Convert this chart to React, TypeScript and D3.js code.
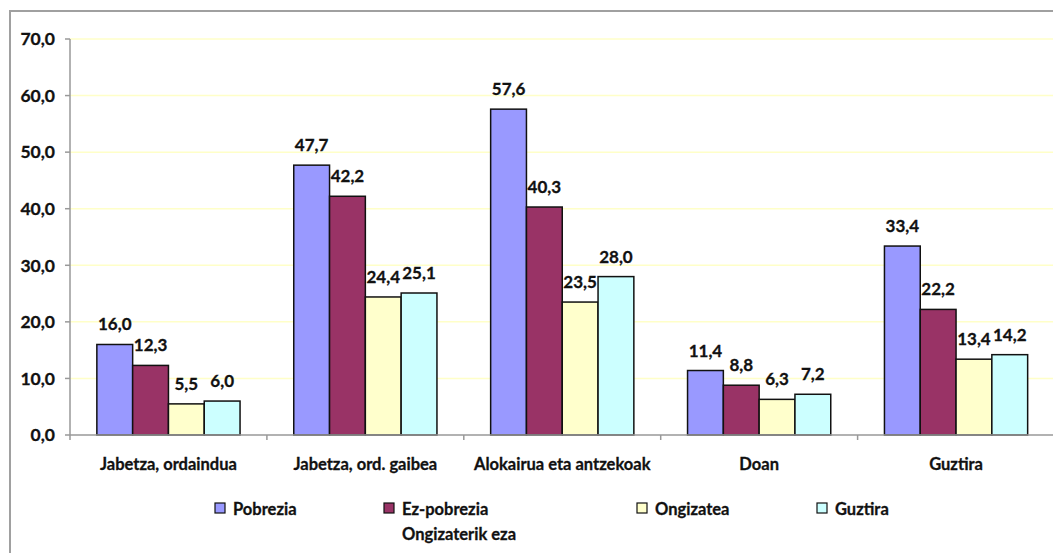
import React from 'react';
import * as d3 from 'd3';

const categories = ['Jabetza, ordaindua', 'Jabetza, ord. gaibea', 'Alokairua eta antzekoak', 'Doan', 'Guztira'];
const seriesNames = ['Pobrezia', 'Ez-pobrezia', 'Ongizatea', 'Guztira'];
const pobrezia = [16.0, 47.7, 57.6, 11.4, 33.4];
const ezPobrezia = [12.3, 42.2, 40.3, 8.8, 22.2];
const ongizatea = [5.5, 24.4, 23.5, 6.3, 13.4];
const guztira = [6.0, 25.1, 28.0, 7.2, 14.2];
const yTicks = [0, 10, 20, 30, 40, 50, 60, 70];

const colors = ['#9999FF', '#993366', '#FFFFCC', '#CCFFFF'];
const FONT = 'Lato, "Open Sans", sans-serif';

const W = 1053;
const H = 553;
const left = 70;
const top = 39;
const bottom = 435;
const right = left + 5 * 196.9;

const fmt = (v: number) => d3.format('.1f')(v).replace('.', ',');

const App: React.FC = () => {
    const values = [pobrezia, ezPobrezia, ongizatea, guztira];

    const x = d3.scaleBand<string>().domain(categories).range([left, right]).padding(0);
    const bw = x.bandwidth();
    const gap = (bw * 1.5) / 5.5;
    const xInner = d3.scaleBand<string>().domain(seriesNames).range([gap / 2, bw - gap / 2]).padding(0);
    const y = d3.scaleLinear().domain([0, 70]).range([bottom, top]);

    // legend sits in fixed spots like the Excel original
    const legendX = [215, 384, 637, 817];

    return (
        <svg width={W} height={H} style={{ position: 'absolute', left: 0, top: 0, background: '#fff' }}
            fontFamily={FONT} fontWeight="bold">
            {/* chart border */}
            <rect x={10} y={11} width={W + 20} height={H + 20} fill="none" stroke="#a0a0a0" strokeWidth={2} />

            {/* gridlines */}
            {yTicks.filter(t => t > 0).map(t => (
                <line key={`g${t}`} x1={left} x2={W} y1={y(t)} y2={y(t)} stroke="#FFFFC8" strokeWidth={1.5} />
            ))}

            {/* y axis */}
            <line x1={left} x2={left} y1={top} y2={bottom} stroke="#999" strokeWidth={1.5} />
            {yTicks.map(t => (
                <g key={`y${t}`}>
                    <line x1={left - 5} x2={left} y1={y(t)} y2={y(t)} stroke="#999" strokeWidth={1.5} />
                    <text x={55} y={y(t)} dy="0.36em" textAnchor="end" fontSize={17.5} fill="#111"
                        stroke="#111" strokeWidth={0.3}>{fmt(t)}</text>
                </g>
            ))}

            {/* bars */}
            {categories.map((c, ci) => (
                <g key={c} transform={`translate(${x(c)},0)`}>
                    {seriesNames.map((s, si) => {
                        const v = values[si][ci];
                        const bx = xInner(s)!;
                        return (
                            <g key={s}>
                                <rect x={bx} y={y(v)} width={xInner.bandwidth()} height={bottom - y(v)}
                                    fill={colors[si]} stroke="#111" strokeWidth={1.5} />
                                <text x={bx + xInner.bandwidth() / 2} y={y(v) - 14} textAnchor="middle"
                                    fontSize={17} fill="#111" stroke="#111" strokeWidth={0.3}>{fmt(v)}</text>
                            </g>
                        );
                    })}
                </g>
            ))}

            {/* x axis */}
            <line x1={left} x2={W} y1={bottom} y2={bottom} stroke="#999" strokeWidth={1.5} />
            {d3.range(categories.length + 1).map(i => (
                <line key={`t${i}`} x1={left + i * bw} x2={left + i * bw} y1={bottom} y2={bottom + 5}
                    stroke="#999" strokeWidth={1.5} />
            ))}
            {categories.map(c => (
                <text key={`l${c}`} x={x(c)! + bw / 2} y={470} textAnchor="middle" fontSize={16.5} fill="#111"
                    stroke="#111" strokeWidth={0.3}>{c}</text>
            ))}

            {/* legend */}
            {seriesNames.map((s, i) => (
                <g key={`lg${s}`} transform={`translate(${legendX[i]},503)`}>
                    <rect x={0} y={0} width={10} height={10} fill={colors[i]} stroke="#111" strokeWidth={1.2} />
                    <text x={18} y={12} fontSize={16.5} fill="#111" stroke="#111" strokeWidth={0.3}>{s}</text>
                    {i === 1 && <text x={18} y={37} fontSize={16.5} fill="#111" stroke="#111" strokeWidth={0.3}>Ongizaterik eza</text>}
                </g>
            ))}
        </svg>
    );
};

export default App;
